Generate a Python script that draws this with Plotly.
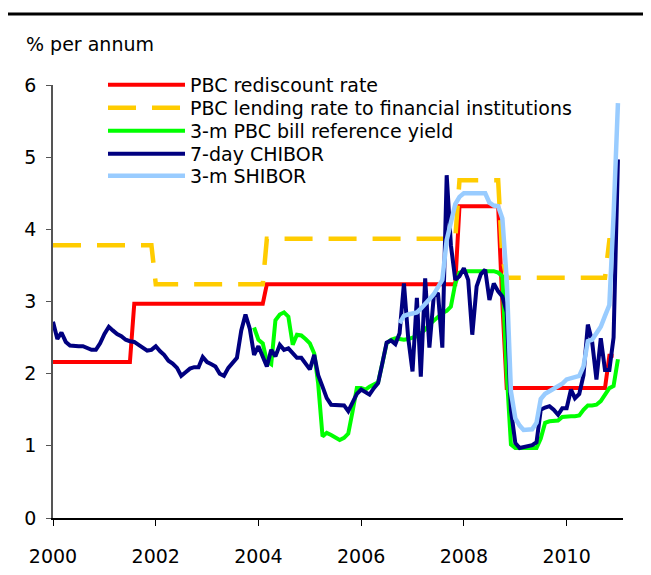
import plotly.graph_objects as go
import pandas as pd

# ---------------- data ----------------
months = pd.date_range("2000-01-01", periods=133, freq="MS")

rediscount_dates = ["2000-01-01", "2001-07-01", "2001-08-01", "2004-02-01", "2004-03-01",
                    "2007-11-01", "2007-12-01", "2008-09-01", "2008-10-01", "2008-11-01",
                    "2010-10-01", "2010-11-01", "2010-12-01"]
rediscount_vals = [2.16, 2.16, 2.97, 2.97, 3.24, 3.24, 4.32, 4.32, 2.97, 1.80, 1.80, 2.25, 2.25]

lending_dates = ["2000-01-01", "2001-12-01", "2002-01-01", "2004-02-01", "2004-03-01",
                 "2007-11-01", "2007-12-01", "2008-09-01", "2008-10-01", "2008-11-01",
                 "2010-10-01", "2010-11-01", "2010-12-01"]
lending_vals = [3.78, 3.78, 3.24, 3.24, 3.87, 3.87, 4.68, 4.68, 3.60, 3.33, 3.33, 3.85, 3.85]

bill_start = "2003-12-01"
bill_vals = [2.64, 2.47, 2.42, 2.17, 2.13, 2.74, 2.82, 2.85, 2.79, 2.40,
             2.54, 2.53, 2.48, 2.42, 2.28, 1.86, 1.13, 1.18, 1.15, 1.11,
             1.08, 1.11, 1.17, 1.48, 1.80, 1.80, 1.78, 1.82, 1.85, 1.88,
             2.15, 2.42, 2.47, 2.49, 2.48, 2.47, 2.48, 2.50, 2.52, 2.56,
             2.61, 2.68, 2.74, 2.79, 2.84, 2.87, 2.93, 3.25, 3.40, 3.42,
             3.42, 3.42, 3.42, 3.42, 3.42, 3.42, 3.42, 3.40, 3.35, 2.00,
             1.02, 0.97, 0.97, 0.97, 0.97, 0.97, 0.97, 1.10, 1.32, 1.34,
             1.34, 1.35, 1.40, 1.41, 1.41, 1.41, 1.42, 1.50, 1.56, 1.56,
             1.57, 1.62, 1.72, 1.80, 1.83, 2.20]

chibor_vals = [2.72, 2.48, 2.57, 2.44, 2.39, 2.38, 2.38, 2.38, 2.35, 2.33,
               2.33, 2.42, 2.55, 2.65, 2.60, 2.55, 2.52, 2.47, 2.45, 2.44,
               2.40, 2.36, 2.32, 2.33, 2.38, 2.31, 2.26, 2.18, 2.14, 2.08,
               1.97, 2.02, 2.07, 2.09, 2.09, 2.23, 2.16, 2.13, 2.10, 2.00,
               1.97, 2.08, 2.14, 2.22, 2.60, 2.82, 2.62, 2.26, 2.38, 2.25,
               2.10, 2.33, 2.24, 2.40, 2.33, 2.35, 2.28, 2.22, 2.22, 2.15,
               2.06, 2.26, 1.98, 1.82, 1.66, 1.57, 1.57, 1.57, 1.56, 1.48,
               1.60, 1.72, 1.78, 1.74, 1.71, 1.80, 1.87, 2.15, 2.43, 2.46,
               2.41, 2.56, 3.25, 2.50, 2.03, 3.05, 1.96, 3.32, 2.36, 3.07,
               3.12, 2.36, 4.75, 3.78, 3.30, 3.35, 3.46, 3.30, 2.54, 3.21,
               3.38, 3.44, 3.02, 3.25, 3.14, 3.07, 2.85, 1.50, 1.04, 0.97,
               0.98, 0.99, 1.01, 1.05, 1.50, 1.53, 1.55, 1.50, 1.43, 1.52,
               1.52, 1.78, 1.66, 1.72, 1.98, 2.68, 2.45, 1.92, 2.49, 2.05,
               2.05, 2.50, 4.97]

shibor_start = "2006-10-01"
shibor_vals = [2.70, 2.80, 2.82, 2.83, 2.85, 2.90, 2.96, 3.03, 3.10, 3.20,
               3.30, 3.85, 4.10, 4.35, 4.45, 4.50, 4.50, 4.50, 4.50, 4.50,
               4.50, 4.37, 4.33, 4.32, 4.15, 3.30, 1.75, 1.38, 1.28, 1.22,
               1.22, 1.23, 1.32, 1.65, 1.72, 1.76, 1.79, 1.82, 1.86, 1.92,
               1.94, 1.95, 1.97, 2.10, 2.45, 2.47, 2.55, 2.65, 2.80, 2.95,
               4.20, 5.75]

series_names = ["PBC rediscount rate",
                "PBC lending rate to financial institutions",
                "3-m PBC bill reference yield",
                "7-day CHIBOR",
                "3-m SHIBOR"]
year_ticks = ["2000-01-01", "2002-01-01", "2004-01-01", "2006-01-01", "2008-01-01", "2010-01-01"]

# ---------------- figure ----------------
FONT = "DejaVu Sans, Arial, sans-serif"
bill_idx = list(months).index(pd.Timestamp(bill_start))
shibor_idx = list(months).index(pd.Timestamp(shibor_start))

fig = go.Figure()
fig.add_trace(go.Scatter(x=pd.to_datetime(rediscount_dates), y=rediscount_vals, mode="lines",
                         name=series_names[0], line=dict(color="#FF0000", width=4), legend="legend"))
fig.add_trace(go.Scatter(x=pd.to_datetime(lending_dates), y=lending_vals, mode="lines",
                         name=series_names[1], line=dict(color="#FFCC00", width=4.5, dash="28px,16px"),
                         legend="legend2"))
fig.add_trace(go.Scatter(x=months[bill_idx:bill_idx + len(bill_vals)], y=bill_vals, mode="lines",
                         name=series_names[2], line=dict(color="#00FF00", width=4), legend="legend3"))
fig.add_trace(go.Scatter(x=months[:len(chibor_vals)], y=chibor_vals, mode="lines",
                         name=series_names[3], line=dict(color="#000080", width=4), legend="legend4"))
fig.add_trace(go.Scatter(x=months[shibor_idx:shibor_idx + len(shibor_vals)], y=shibor_vals, mode="lines",
                         name=series_names[4], line=dict(color="#99CCFF", width=4.5), legend="legend5"))

# page body has an 8px margin; size the figure so the plot lands where the reference has it
OFF = 8
W, H = 651 - OFF, 575 - OFF
PL, PR, PT, PB = 45, 28, 77, 57
pw, ph = W - PL - PR, H - PT - PB

def px_x(page_x):
    return (page_x - OFF - PL) / pw

def px_y(page_y):
    return (H - PB - (page_y - OFF)) / ph

row_y = [85, 108, 131, 154, 176]
leg_common = dict(xanchor="left", yanchor="middle", bgcolor="rgba(0,0,0,0)",
                  borderwidth=0, font=dict(family=FONT, size=19, color="#000"),
                  itemwidth=77, tracegroupgap=0)
layout_legends = {}
for i, yy in enumerate(row_y):
    key = "legend" if i == 0 else f"legend{i + 1}"
    layout_legends[key] = dict(x=px_x(103), y=px_y(yy), **leg_common)

fig.update_layout(
    width=W, height=H,
    margin=dict(l=PL, r=PR, t=PT, b=PB),
    paper_bgcolor="white", plot_bgcolor="white",
    font=dict(family=FONT, size=19, color="#000"),
    showlegend=True,
    **layout_legends,
    xaxis=dict(type="date", range=["2000-01-01", "2011-02-06"],
               tickvals=year_ticks, tickformat="%Y", automargin=False,
               showgrid=False, zeroline=False, showline=True, linecolor="#000", linewidth=1.5,
               ticks="outside", ticklen=6, tickwidth=1.2, tickcolor="#000",
               ticklabelstandoff=14, tickfont=dict(family=FONT, size=19, color="#000")),
    yaxis=dict(range=[0, 6], tick0=0, dtick=1, automargin=False,
               showgrid=False, zeroline=False, showline=True, linecolor="#555", linewidth=1.5,
               ticks="outside", ticklen=5, tickwidth=1.2, tickcolor="#555",
               ticklabelstandoff=6, tickfont=dict(family=FONT, size=19, color="#000")),
    annotations=[dict(text="% per annum", xref="paper", yref="paper",
                      x=px_x(24), y=px_y(44), xanchor="left", yanchor="middle",
                      showarrow=False, font=dict(family=FONT, size=19, color="#000"))],
    shapes=[dict(type="line", xref="paper", yref="paper",
                 x0=px_x(7), x1=px_x(651), y0=px_y(14), y1=px_y(14),
                 line=dict(color="#000", width=3))],
)

fig.write_html("out.html")
